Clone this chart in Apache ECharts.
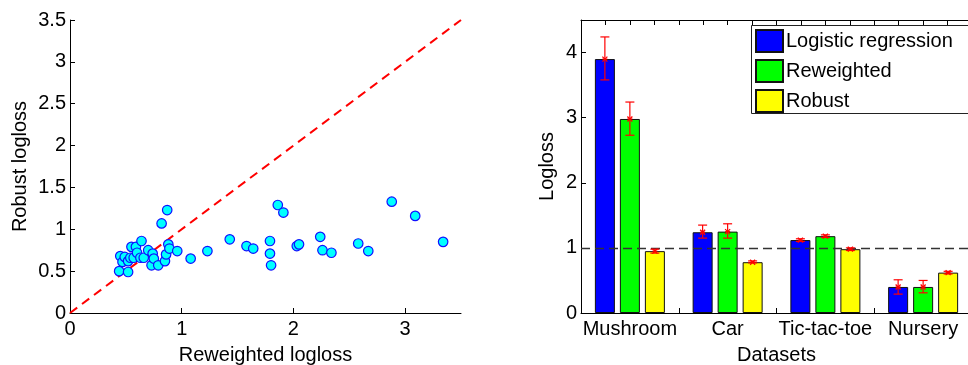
<!DOCTYPE html>
<html>
<head>
<meta charset="utf-8">
<script src="https://cdn.jsdelivr.net/npm/echarts@6/dist/echarts.min.js"></script>
<style>
html,body{margin:0;padding:0;background:#fff;}
#chart{width:968px;height:365px;}
</style>
</head>
<body>
<div id="chart"></div>
<script>
// ---- Left panel data: Reweighted logloss (x) vs Robust logloss (y) ----
const scatterX = [0.44,0.45,0.47,0.49,0.52,0.52,0.54,0.55,0.57,0.59,0.60,0.63,0.64,0.66,0.70,0.74,0.73,0.75,0.79,0.82,0.85,0.86,0.87,0.88,0.89,0.96,1.08,1.23,1.43,1.58,1.64,1.79,1.79,1.80,1.86,1.91,2.03,2.05,2.24,2.26,2.34,2.58,2.67,2.88,3.09,3.34];
const scatterY = [0.50,0.68,0.61,0.67,0.49,0.62,0.66,0.79,0.66,0.79,0.72,0.66,0.86,0.66,0.75,0.71,0.57,0.65,0.57,1.07,0.62,0.70,1.23,0.82,0.77,0.74,0.65,0.74,0.88,0.80,0.77,0.86,0.71,0.57,1.29,1.20,0.80,0.82,0.91,0.75,0.72,0.83,0.74,1.33,1.16,0.85];
const diagX = [0, 3.5];
const diagY = [0, 3.5];
const leftXTicks = [0, 1, 2, 3];

// ---- Right panel data ----
const categories = ['Mushroom', 'Car', 'Tic-tac-toe', 'Nursery'];
const seriesNames = ['Logistic regression', 'Reweighted', 'Robust'];
const lrMean  = [3.90, 1.24, 1.12, 0.40];
const lrLow   = [3.58, 1.15, 1.10, 0.29];
const lrHigh  = [4.24, 1.35, 1.14, 0.51];
const rwMean  = [2.98, 1.25, 1.18, 0.40];
const rwLow   = [2.73, 1.15, 1.16, 0.31];
const rwHigh  = [3.24, 1.37, 1.20, 0.50];
const rbMean  = [0.95, 0.78, 0.98, 0.62];
const rbLow   = [0.92, 0.77, 0.96, 0.60];
const rbHigh  = [0.98, 0.80, 1.00, 0.64];
const refLine = 1;
const rightYTicks = [0, 1, 2, 3, 4];

const FONT = 'Liberation Sans, Arial, sans-serif';
const FS = 20;
const axisCol = '#000';

function errData(mean, low, high) {
  return mean.map((m, i) => [i, low[i], high[i], m]);
}
function errRender(offset) {
  return function (params, api) {
    const i = api.value(0);
    const lo = api.coord([i, api.value(1)]);
    const hi = api.coord([i, api.value(2)]);
    const md = api.coord([i, api.value(3)]);
    const x = lo[0] + offset;
    const cap = 4.5, s = 2.5;
    const st = { stroke: '#ff0000', lineWidth: 1.2 };
    return {
      type: 'group',
      children: [
        { type: 'line', shape: { x1: x, y1: hi[1], x2: x, y2: lo[1] }, style: st },
        { type: 'line', shape: { x1: x - cap, y1: hi[1], x2: x + cap, y2: hi[1] }, style: st },
        { type: 'line', shape: { x1: x - cap, y1: lo[1], x2: x + cap, y2: lo[1] }, style: st },
        { type: 'line', shape: { x1: x - s, y1: md[1], x2: x + s, y2: md[1] }, style: st },
        { type: 'line', shape: { x1: x - s, y1: md[1] - s, x2: x + s, y2: md[1] + s }, style: st },
        { type: 'line', shape: { x1: x - s, y1: md[1] + s, x2: x + s, y2: md[1] - s }, style: st }
      ]
    };
  };
}

const chart = echarts.init(document.getElementById('chart'), null, { renderer: 'canvas' });
const barStyle = (c) => ({ color: c, borderColor: '#111', borderWidth: 1 });

const option = {
  animation: false,
  backgroundColor: '#fff',
  textStyle: { fontFamily: FONT },
  graphic: [
    {
      type: 'rect', z: 3, silent: true,
      shape: { x: 751.5, y: 25.5, width: 260, height: 88 },
      style: { fill: '#fff', stroke: '#222', lineWidth: 1 }
    }
  ],
  legend: {
    data: seriesNames,
    orient: 'vertical',
    left: 751, top: 25, z: 5,
    padding: [4, 4, 4, 4],
    itemWidth: 27, itemHeight: 22, itemGap: 6,
    icon: 'rect',
    selectedMode: false,
    textStyle: { fontFamily: FONT, fontSize: FS, color: '#000', lineHeight: 22, padding: [0, 0, 0, -2] }
  },
  grid: [
    { left: 70, top: 20, width: 391, height: 293, containLabel: false, outerBoundsMode: 'none' },
    { left: 581, top: 20, width: 391, height: 293, containLabel: false, outerBoundsMode: 'none' }
  ],
  xAxis: [
    {
      gridIndex: 0, type: 'value', min: 0, max: 3.5, interval: 1,
      name: 'Reweighted logloss', nameLocation: 'middle', nameGap: 32,
      nameTextStyle: { fontFamily: FONT, fontSize: FS, color: '#000' },
      axisLine: { show: true, onZero: false, lineStyle: { color: axisCol, width: 1 } },
      axisTick: { show: true, inside: true, length: 5, customValues: leftXTicks, lineStyle: { color: axisCol } },
      axisLabel: { fontFamily: FONT, fontSize: FS, color: '#000', margin: 6, customValues: leftXTicks },
      splitLine: { show: false }
    },
    {
      gridIndex: 1, type: 'category', data: categories, position: 'bottom',
      name: 'Datasets', nameLocation: 'middle', nameGap: 32,
      nameTextStyle: { fontFamily: FONT, fontSize: FS, color: '#000' },
      axisLine: { show: true, lineStyle: { color: axisCol, width: 1 } },
      axisTick: { show: true, inside: true, length: 5, alignWithLabel: false, lineStyle: { color: axisCol } },
      axisLabel: { fontFamily: FONT, fontSize: FS, color: '#000', margin: 6, interval: 0 },
      splitLine: { show: false }
    },
    {
      gridIndex: 1, type: 'value', position: 'top', min: 0.5, max: 4.5, interval: 0.25,
      axisLine: { show: true, lineStyle: { color: axisCol, width: 1 } },
      axisTick: { show: true, inside: true, length: 5, lineStyle: { color: axisCol } },
      axisLabel: { show: false },
      splitLine: { show: false }
    }
  ],
  yAxis: [
    {
      gridIndex: 0, type: 'value', min: 0, max: 3.5, interval: 0.5,
      name: 'Robust logloss', nameLocation: 'middle', nameGap: 40,
      nameTextStyle: { fontFamily: FONT, fontSize: FS, color: '#000' },
      axisLine: { show: true, onZero: false, lineStyle: { color: axisCol, width: 1 } },
      axisTick: { show: true, inside: true, length: 5, lineStyle: { color: axisCol } },
      axisLabel: { fontFamily: FONT, fontSize: FS, color: '#000', margin: 4 },
      splitLine: { show: false }
    },
    {
      gridIndex: 1, type: 'value', min: 0, max: 4.5, interval: 1,
      name: 'Logloss', nameLocation: 'middle', nameGap: 24,
      nameTextStyle: { fontFamily: FONT, fontSize: FS, color: '#000' },
      axisLine: { show: true, onZero: false, lineStyle: { color: axisCol, width: 1 } },
      axisTick: { show: true, inside: true, length: 5, customValues: rightYTicks, lineStyle: { color: axisCol } },
      axisLabel: { fontFamily: FONT, fontSize: FS, color: '#000', margin: 4, customValues: rightYTicks },
      splitLine: { show: false }
    }
  ],
  series: [
    {
      type: 'line', xAxisIndex: 0, yAxisIndex: 0,
      data: diagX.map((x, i) => [x, diagY[i]]),
      symbol: 'none', silent: true, z: 3,
      lineStyle: { color: '#ff0000', width: 2, type: [9, 6] }
    },
    {
      type: 'scatter', xAxisIndex: 0, yAxisIndex: 0,
      data: scatterX.map((x, i) => [x, scatterY[i]]),
      symbol: 'circle', symbolSize: 9.5, z: 4,
      itemStyle: { color: '#00ffff', borderColor: '#1010ff', borderWidth: 1.2, opacity: 1 }
    },
    {
      name: seriesNames[0], type: 'bar', xAxisIndex: 1, yAxisIndex: 1,
      data: lrMean, barWidth: 20, barGap: '25%',
      itemStyle: barStyle('#0000ff')
    },
    {
      name: seriesNames[1], type: 'bar', xAxisIndex: 1, yAxisIndex: 1,
      data: rwMean, barWidth: 20, barGap: '25%',
      itemStyle: barStyle('#00ff00')
    },
    {
      name: seriesNames[2], type: 'bar', xAxisIndex: 1, yAxisIndex: 1,
      data: rbMean, barWidth: 20, barGap: '25%',
      itemStyle: barStyle('#ffff00'),
      markLine: {
        silent: true, symbol: 'none', label: { show: false },
        lineStyle: { color: '#333', width: 1.3, type: [9, 5] },
        data: [{ yAxis: refLine }]
      }
    },
    {
      type: 'custom', xAxisIndex: 1, yAxisIndex: 1, z: 6,
      data: errData(lrMean, lrLow, lrHigh), renderItem: errRender(-25),
      encode: { x: 0, y: [1, 2] }
    },
    {
      type: 'custom', xAxisIndex: 1, yAxisIndex: 1, z: 6,
      data: errData(rwMean, rwLow, rwHigh), renderItem: errRender(0),
      encode: { x: 0, y: [1, 2] }
    },
    {
      type: 'custom', xAxisIndex: 1, yAxisIndex: 1, z: 6,
      data: errData(rbMean, rbLow, rbHigh), renderItem: errRender(25),
      encode: { x: 0, y: [1, 2] }
    }
  ]
};
chart.setOption(option);
</script>
</body>
</html>
